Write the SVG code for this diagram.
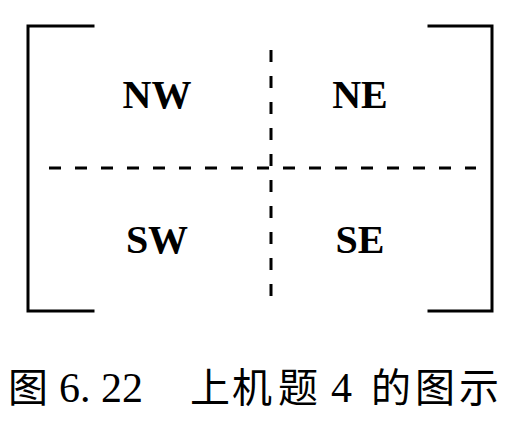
<svg xmlns="http://www.w3.org/2000/svg" width="516" height="430" viewBox="0 0 516 430">
<style>
.frame{fill:none;stroke:#000;stroke-width:3;stroke-linecap:square}
.dash{fill:none;stroke:#000;stroke-width:3;stroke-dasharray:12 14}
.lbl{font-family:"Liberation Serif","Times New Roman",serif;font-weight:bold;font-size:40px;text-anchor:middle;fill:#000}
.cap{font-family:"Noto Sans CJK SC","Liberation Serif",sans-serif;font-size:40px;fill:#000}
.num{font-family:"Liberation Serif",serif;font-size:42px}
</style>
<rect width="516" height="430" fill="#fff"/>
<g id="connectors">
<path class="frame" d="M93 26 H28 V311 H93"/>
<path class="frame" d="M429 26 H492 V311 H429"/>
<path class="dash" d="M49 168 H476"/>
<path class="dash" d="M271 50 V300"/>
</g>
<g id="NW"><text class="lbl" x="157" y="108">NW</text></g>
<g id="NE"><text class="lbl" x="360" y="108">NE</text></g>
<g id="SW"><text class="lbl" x="157" y="253">SW</text></g>
<g id="SE"><text class="lbl" x="360" y="253">SE</text></g>
<g id="caption">
<text class="cap" y="402"><tspan x="8">图</tspan><tspan class="num" x="59">6. 22</tspan><tspan x="190">上</tspan><tspan x="232">机</tspan><tspan x="278">题</tspan><tspan class="num" x="331">4</tspan><tspan x="371">的</tspan><tspan x="415">图</tspan><tspan x="459">示</tspan></text>
</g>
</svg>
